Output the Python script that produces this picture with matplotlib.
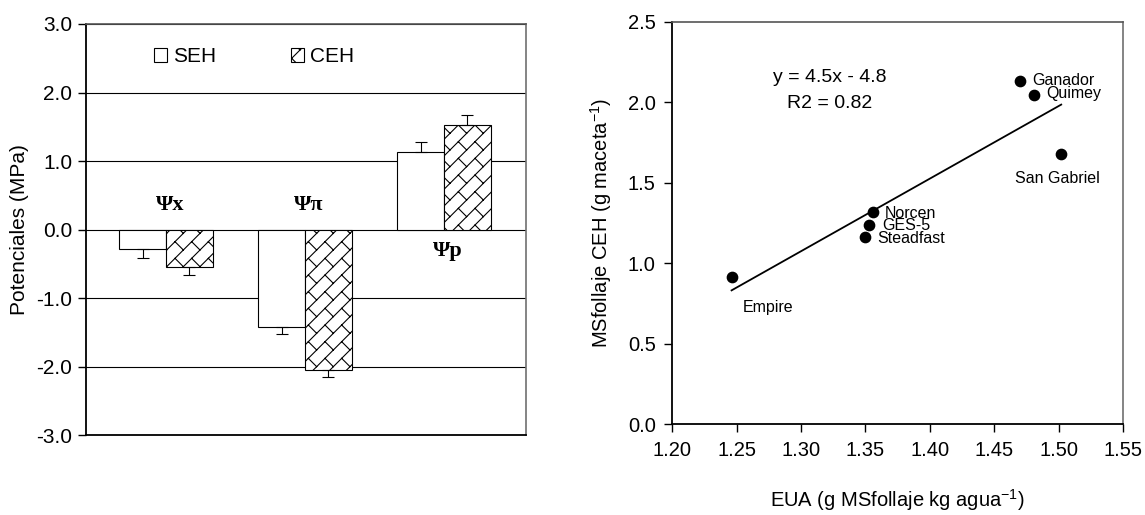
import warnings

import numpy as np
import matplotlib
matplotlib.use("Agg")
import matplotlib.pyplot as plt
from matplotlib import hatch as mhatch
from matplotlib.path import Path
from matplotlib.patches import Patch

warnings.filterwarnings("ignore", message=".*hatch must consist.*")

# potenciales hidricos (MPa), sin y con estres hidrico
componentes = ["\u03a8x", "\u03a8\u03c0", "\u03a8p"]
seh = [-0.29, -1.43, 1.13]
seh_err = [0.12, 0.10, 0.15]
ceh = [-0.54, -2.05, 1.53]
ceh_err = [0.12, 0.10, 0.14]

# EUA vs materia seca de follaje por cultivar
cultivares = ["Ganador", "Quimey", "San Gabriel", "Norcen", "GES-5", "Steadfast", "Empire"]
eua = [1.470, 1.481, 1.502, 1.356, 1.353, 1.350, 1.246]
msfollaje = [2.134, 2.047, 1.677, 1.317, 1.238, 1.165, 0.913]

ecuacion = "y = 4.5x - 4.8"
r2_texto = "R2 = 0.82"


class BrickHatch(mhatch.HatchPatternBase):
    # brick pattern turned 45 degrees, hatch char 'b'
    def __init__(self, hatch, density):
        n = int(hatch.count("b") * density)
        n += n % 2
        self.segs = []
        if n:
            for k in range(-n, n + 1):
                d0, d1 = k / n, (k + 1) / n
                self.segs.append(((-0.5, d0), (2.5, d0)))
                for j in range(-2, n + 2):
                    s0 = 2 * j / n + (k % 2) / n
                    self.segs.append(((s0, d0), (s0, d1)))
        self.num_vertices = 2 * len(self.segs)

    def set_vertices_and_codes(self, vertices, codes):
        sd = np.array(self.segs).reshape(-1, 2)
        vertices[:, 0] = (sd[:, 0] - sd[:, 1]) / 2
        vertices[:, 1] = (sd[:, 0] + sd[:, 1]) / 2
        codes[0::2] = Path.MOVETO
        codes[1::2] = Path.LINETO


mhatch._hatch_types.append(BrickHatch)

plt.rcParams["font.family"] = ["Liberation Sans", "DejaVu Sans"]
plt.rcParams["axes.unicode_minus"] = False
plt.rcParams["hatch.linewidth"] = 0.8

fig = plt.figure(figsize=(11.45, 5.15), dpi=100)

# ---- left panel ----
ax1 = fig.add_axes([0.0751, 0.1553, 0.3840, 0.7981])
x = np.arange(len(componentes))
w = 0.335
ax1.set_axisbelow(True)
ax1.yaxis.grid(True, color="black", linewidth=0.8)
ax1.bar(x - w / 2, seh, w, color="white", edgecolor="black", linewidth=0.8, zorder=2)
ax1.bar(x + w / 2, ceh, w, color="white", edgecolor="black", linewidth=0.8,
        hatch="b", zorder=2)


def err_outward(vals, errs):
    low = [e if v < 0 else 0 for v, e in zip(vals, errs)]
    up = [e if v > 0 else 0 for v, e in zip(vals, errs)]
    return [low, up]


ax1.errorbar(x - w / 2, seh, yerr=err_outward(seh, seh_err), fmt="none",
             ecolor="black", elinewidth=0.8, capsize=4, capthick=0.8, zorder=3)
ax1.errorbar(x + w / 2, ceh, yerr=err_outward(ceh, ceh_err), fmt="none",
             ecolor="black", elinewidth=0.8, capsize=4, capthick=0.8, zorder=3)

for i, (lab, a, b) in enumerate(zip(componentes, seh, ceh)):
    ypos = 0.36 if min(a, b) < 0 else -0.32
    ax1.text(i + 0.03, ypos, lab, ha="center", va="center", fontsize=16,
             fontweight="bold", family=["Liberation Serif", "DejaVu Serif"])

ax1.set_xlim(-0.576, 2.588)
ax1.set_ylim(-3, 3)
ax1.set_yticks(np.arange(-3, 3.1, 1))
ax1.yaxis.set_major_formatter(plt.FormatStrFormatter("%.1f"))
ax1.set_xticks([])
ax1.tick_params(axis="y", direction="out", length=6, width=1, labelsize=15, pad=4)
ax1.set_ylabel("Potenciales (MPa)", fontsize=15)
ax1.yaxis.set_label_coords(-0.13, 0.5)
for side in ["left", "bottom"]:
    ax1.spines[side].set_color("black")
    ax1.spines[side].set_linewidth(1.3)
ax1.spines["top"].set_color("#555555")
ax1.spines["right"].set_color("#707070")
ax1.spines["top"].set_linewidth(1.2)
ax1.spines["right"].set_linewidth(1.2)

handles = [Patch(facecolor="white", edgecolor="black", linewidth=0.8, label="SEH"),
           Patch(facecolor="white", edgecolor="black", linewidth=0.8, hatch="b", label="CEH")]
ax1.legend(handles=handles, loc="center left", bbox_to_anchor=(0.155, 0.92), ncol=2,
           frameon=False, fontsize=15, handlelength=0.6, handleheight=0.6,
           handletextpad=0.3, columnspacing=3.6, borderpad=0, borderaxespad=0)

# ---- right panel ----
ax2 = fig.add_axes([0.5872, 0.1761, 0.3936, 0.7817])
ax2.scatter(eua, msfollaje, s=55, color="black", zorder=3)
m, b = np.polyfit(eua, msfollaje, 1)
xl = np.array([min(eua), max(eua)])
ax2.plot(xl, m * xl + b, color="black", linewidth=1.3, zorder=2)

offsets = {"Ganador": (12, 0, "left"), "Quimey": (12, 1, "left"),
           "San Gabriel": (-4, -24, "center"), "Norcen": (12, -1, "left"),
           "GES-5": (13, -1, "left"), "Steadfast": (12, -2, "left"),
           "Empire": (11, -30, "left")}
for name, xv, yv in zip(cultivares, eua, msfollaje):
    dx, dy, ha = offsets[name]
    ax2.annotate(name, (xv, yv), xytext=(dx, dy), textcoords="offset pixels",
                 ha=ha, va="center", fontsize=11.5)

ax2.text(1.3224, 2.155, ecuacion, ha="center", va="center", fontsize=14)
ax2.text(1.3224, 1.994, r2_texto, ha="center", va="center", fontsize=14)

ax2.set_xlim(1.20, 1.55)
ax2.set_ylim(0, 2.5)
ax2.set_xticks(np.arange(1.20, 1.551, 0.05))
ax2.set_yticks(np.arange(0, 2.51, 0.5))
ax2.xaxis.set_major_formatter(plt.FormatStrFormatter("%.2f"))
ax2.yaxis.set_major_formatter(plt.FormatStrFormatter("%.1f"))
ax2.tick_params(direction="out", length=6, width=1, labelsize=14.5, pad=6)
ax2.set_xlabel("EUA (g MSfollaje kg agua$^{\\mathregular{-1}}$)", fontsize=14.5)
ax2.set_ylabel("MSfollaje CEH (g maceta$^{\\mathregular{-1}}$)", fontsize=14.5)
ax2.xaxis.set_label_coords(0.5, -0.156)
ax2.yaxis.set_label_coords(-0.13, 0.5)
for side in ["left", "bottom"]:
    ax2.spines[side].set_color("black")
    ax2.spines[side].set_linewidth(1.3)
ax2.spines["top"].set_color("#555555")
ax2.spines["right"].set_color("#707070")
ax2.spines["top"].set_linewidth(1.2)
ax2.spines["right"].set_linewidth(1.2)

fig.savefig("out.png", dpi=100)
